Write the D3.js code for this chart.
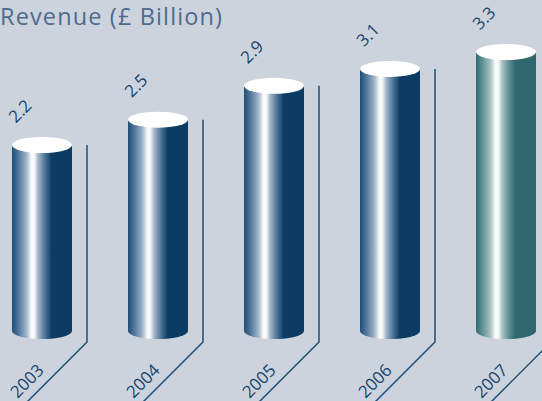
<!DOCTYPE html>
<html>
<head>
<meta charset="utf-8">
<script src="https://cdn.jsdelivr.net/npm/d3@7"></script>
<style>
  html, body { margin: 0; padding: 0; background: #cdd3dc; }
  svg { display: block; }
</style>
</head>
<body>
<svg width="542" height="401"></svg>
<script>
const years = ["2003", "2004", "2005", "2006", "2007"];
const revenue = [2.2, 2.5, 2.9, 3.1, 3.3];

const svg = d3.select("svg");
const width = +svg.attr("width");
const height = +svg.attr("height");

svg.append("rect").attr("width", width).attr("height", height).attr("fill", "#cdd3dc");

const x = d3.scaleBand()
  .domain(years)
  .range([12, 536])
  .paddingInner(56 / 116)
  .paddingOuter(0);

const y = d3.scaleLinear()
  .domain([0, 3.3])
  .range([331, 52]);

const ry = 8;
const lineColor = "#1d4f78";
const textColor = "#17456e";

// gradients: navy and teal
const defs = svg.append("defs");
function makeGrad(id, stops) {
  const g = defs.append("linearGradient").attr("id", id)
    .attr("x1", "0%").attr("x2", "100%").attr("y1", "0%").attr("y2", "0%");
  stops.forEach(s => g.append("stop").attr("offset", s[0]).attr("stop-color", s[1]));
}
makeGrad("navy", [
  [0, "#1f4d77"], [0.1, "#4e7499"], [0.24, "#9fb4c9"], [0.33, "#ffffff"], [0.38, "#eef2f6"],
  [0.43, "#a9b9cc"], [0.55, "#4e7499"], [0.66, "#0c3c63"], [1, "#0c3c63"]
]);
makeGrad("teal", [
  [0, "#2f6a70"], [0.1, "#5e8f93"], [0.24, "#a7c1c3"], [0.33, "#ffffff"], [0.38, "#eef4f4"],
  [0.43, "#b0c6c8"], [0.55, "#5e8f93"], [0.66, "#2e676d"], [1, "#2e676d"]
]);

const data = years.map((yr, i) => ({ year: yr, value: revenue[i] }));

const bars = svg.selectAll("g.bar")
  .data(data)
  .enter()
  .append("g")
  .attr("class", "bar");

// guide lines: vertical then 45° diagonal
bars.append("path")
  .attr("fill", "none")
  .attr("stroke", lineColor)
  .attr("stroke-width", 1.5)
  .attr("d", d => {
    const lx = x(d.year) + x.bandwidth() + 15;
    const yb = y(0) + 11;
    return `M${lx},${y(d.value)} L${lx},${yb} L${lx - 80},${yb + 80}`;
  });

// cylinder body
bars.append("path")
  .attr("fill", (d, i) => i === years.length - 1 ? "url(#teal)" : "url(#navy)")
  .attr("d", d => {
    const l = x(d.year), r = l + x.bandwidth();
    const rx = x.bandwidth() / 2;
    return `M${l},${y(d.value)} L${l},${y(0)} A${rx},${ry} 0 0 0 ${r},${y(0)} L${r},${y(d.value)} Z`;
  });

// cylinder top
bars.append("ellipse")
  .attr("cx", d => x(d.year) + x.bandwidth() / 2)
  .attr("cy", d => y(d.value))
  .attr("rx", x.bandwidth() / 2)
  .attr("ry", ry)
  .attr("fill", "#ffffff");

// value labels
bars.append("text")
  .attr("transform", d => `translate(${x(d.year) + x.bandwidth() / 2 - 22},${y(d.value) - 34}) rotate(-45)`)
  .attr("text-anchor", "middle")
  .attr("dy", "0.35em")
  .attr("fill", textColor)
  .attr("font-family", "'Open Sans', sans-serif")
  .attr("font-size", "17px")
  .text(d => d.value.toFixed(1));

// year labels along diagonal
bars.append("text")
  .attr("transform", d => {
    const lx = x(d.year) + x.bandwidth() + 15;
    return `translate(${lx - 60},381) rotate(-45)`;
  })
  .attr("text-anchor", "middle")
  .attr("dy", "0.35em")
  .attr("fill", textColor)
  .attr("font-family", "'Open Sans', sans-serif")
  .attr("font-size", "17px")
  .text(d => d.year);

// title
svg.append("text")
  .attr("x", 0)
  .attr("y", 25)
  .attr("fill", "#4d6a8f")
  .attr("font-family", "'Open Sans', sans-serif")
  .attr("font-size", "23.5px")
  .attr("textLength", 222)
  .attr("lengthAdjust", "spacing")
  .text("Revenue (£ Billion)");
</script>
</body>
</html>
